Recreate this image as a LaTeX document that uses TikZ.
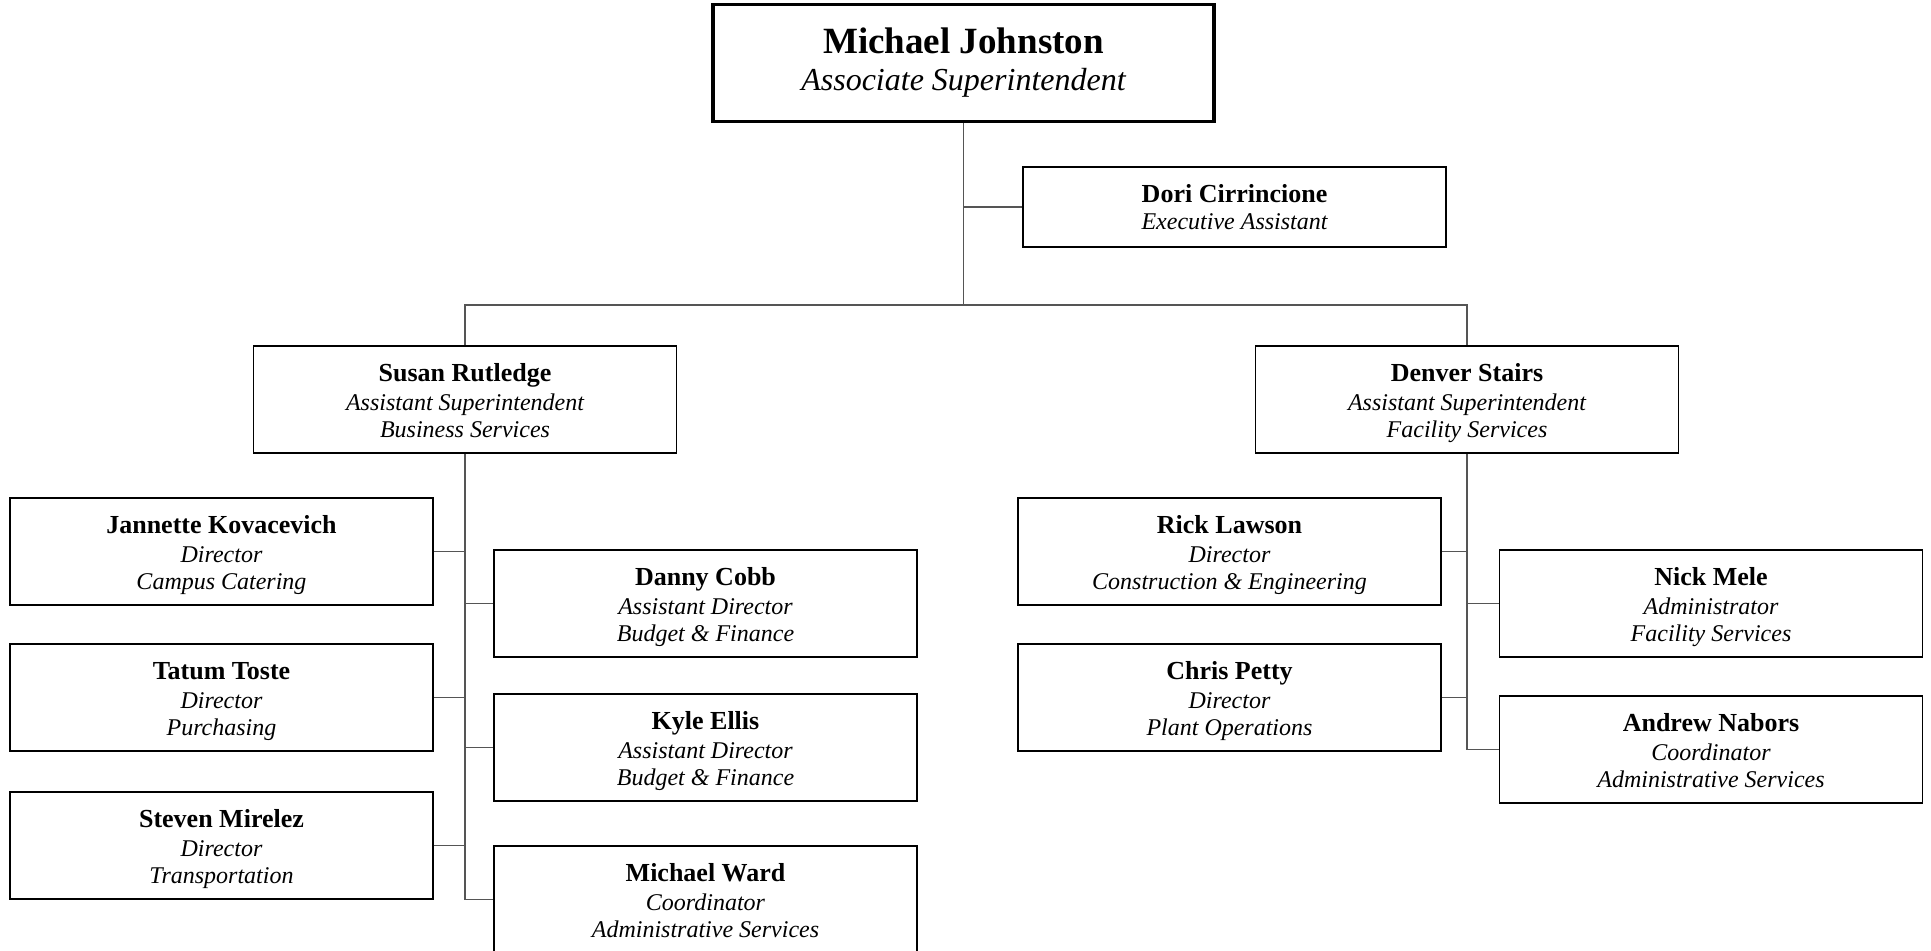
\documentclass[tikz,border=0pt]{standalone}
\usepackage{fontspec}
\setmainfont{Liberation Serif}
\usepackage{tikz}
\usetikzlibrary{positioning}
\definecolor{LinkGray}{RGB}{85,85,85}
\newcommand{\staff}[3]{{\upshape\bfseries\fontsize{13}{15}\selectfont\rule{0pt}{14.2pt}#1}\\[1.3pt]#2\\#3\strut}

\begin{document}
\begin{tikzpicture}[x=0.5pt,y=-0.5pt,
    box/.style={rectangle,draw,line width=0.8pt,minimum width=211.5pt,minimum height=53.5pt,
        inner sep=0pt,align=center,font=\itshape\fontsize{12}{13.5}\selectfont},
    link/.style={draw=LinkGray,line width=0.6pt}]
    \clip (0,0) rectangle (1931,951);

    % Top of the chart
    \node[box,line width=1.6pt,minimum width=250.5pt,minimum height=58.5pt,
        font=\itshape\fontsize{16}{18.5}\selectfont] (mj) at (963.5,63)
        {{\upshape\bfseries\fontsize{18.5}{20}\selectfont Michael Johnston}\\Associate Superintendent};
    \node[box,minimum height=40pt] (dc) at (1234.5,207)
        {{\upshape\bfseries\fontsize{13}{15}\selectfont\rule{0pt}{13.5pt}Dori Cirrincione}\\Executive Assistant\strut};
    \coordinate (bus) at (963.5,305);

    % Business services
    \node[box] (sr) at (465,399.5) {\staff{Susan Rutledge}{Assistant Superintendent}{Business Services}};
    \node[box] (jk) at (221.5,551.5) {\staff{Jannette Kovacevich}{Director}{Campus Catering}};
    \node[box] (tt) at (221.5,697.5) {\staff{Tatum Toste}{Director}{Purchasing}};
    \node[box] (sm) at (221.5,845.5) {\staff{Steven Mirelez}{Director}{Transportation}};
    \node[box] (db) at (705.5,603.5) {\staff{Danny Cobb}{Assistant Director}{Budget \& Finance}};
    \node[box] (ke) at (705.5,747.5) {\staff{Kyle Ellis}{Assistant Director}{Budget \& Finance}};
    \node[box] (mw) at (705.5,899.5) {\staff{Michael Ward}{Coordinator}{Administrative Services}};

    % Facility services
    \node[box] (ds) at (1467,399.5) {\staff{Denver Stairs}{Assistant Superintendent}{Facility Services}};
    \node[box] (rl) at (1229.5,551.5) {\staff{Rick Lawson}{Director}{Construction \& Engineering}};
    \node[box] (cp) at (1229.5,697.5) {\staff{Chris Petty}{Director}{Plant Operations}};
    \node[box] (nm) at (1711,603.5) {\staff{Nick Mele}{Administrator}{Facility Services}};
    \node[box] (an) at (1711,749.5) {\staff{Andrew Nabors}{Coordinator}{Administrative Services}};

    % Lines
    \draw[link] (mj.south) -- (bus);
    \draw[link] (dc.west) -- (dc.west -| mj.south);
    \draw[link] (sr.north) |- (bus) -| (ds.north);
    \draw[link] (sr.south) -- (sr.south |- mw.west);
    \draw[link] (ds.south) -- (ds.south |- an.west);
    \foreach \n in {jk,tt,sm} \draw[link] (\n.east) -- (\n.east -| sr.south);
    \foreach \n in {db,ke,mw} \draw[link] (\n.west) -- (\n.west -| sr.south);
    \foreach \n in {rl,cp} \draw[link] (\n.east) -- (\n.east -| ds.south);
    \foreach \n in {nm,an} \draw[link] (\n.west) -- (\n.west -| ds.south);
\end{tikzpicture}
\end{document}
